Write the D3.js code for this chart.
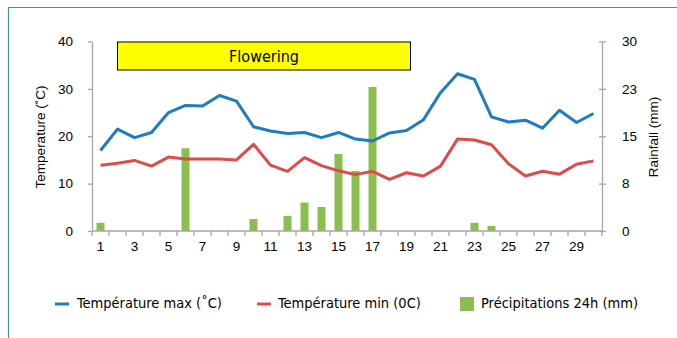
<!DOCTYPE html>
<html>
<head>
<meta charset="utf-8">
<script src="https://cdn.jsdelivr.net/npm/d3@7/dist/d3.min.js"></script>
<style>
  html, body { margin: 0; padding: 0; background: #fff; }
  svg { display: block; }
</style>
</head>
<body>
<svg id="chart" width="677" height="338"></svg>
<script>
// Daily weather for the month: max/min temperature and 24h rainfall
const days = d3.range(1, 31);
const tempMax = [17.0, 21.5, 19.7, 20.8, 25.0, 26.5, 26.4, 28.6, 27.4, 22.0,
                 21.1, 20.6, 20.8, 19.7, 20.8, 19.4, 19.0, 20.7, 21.2, 23.5,
                 29.2, 33.2, 32.0, 24.1, 23.0, 23.4, 21.7, 25.5, 22.9, 24.8];
const tempMin = [13.9, 14.3, 14.9, 13.7, 15.6, 15.2, 15.2, 15.2, 15.0, 18.3,
                 13.9, 12.6, 15.5, 13.8, 12.7, 11.9, 12.6, 10.9, 12.3, 11.6,
                 13.7, 19.4, 19.2, 18.2, 14.2, 11.6, 12.6, 12.0, 14.1, 14.8];
const rain =    [1.3, 0, 0, 0, 0, 13.1, 0, 0, 0, 1.9,
                 0, 2.4, 4.5, 3.8, 12.2, 9.5, 22.8, 0, 0, 0,
                 0, 0, 1.3, 0.8, 0, 0, 0, 0, 0, 0];
const tempTicks = [0, 10, 20, 30, 40];
const rainTicks = [0, 7.5, 15, 22.5, 30];
const rainTickLabels = ["0", "8", "15", "23", "30"];
const xTickLabels = days.map(d => (d % 2 === 1 ? String(d) : ""));
const flowering = { start: 2, end: 19, label: "Flowering" };
const seriesNames = ["Température max (˚C)", "Température min (0C)", "Précipitations 24h (mm)"];

const colors = { max: "#1f7bc2", min: "#df4a4a", rain: "#8cbd4f", axis: "#a6a6a6" };
const tickFont = "'Liberation Sans', Arial, sans-serif";
const labelFont = "'DejaVu Sans Condensed', 'DejaVu Sans', sans-serif";

const svg = d3.select("#chart");

// outer frame (top and left edges visible)
svg.append("path")
  .attr("d", "M8.5,338 V7.5 H677")
  .attr("fill", "none")
  .attr("stroke", "#3b8fcb")
  .attr("stroke-width", 1.2);

const plot = { left: 92, right: 602, top: 41.5, bottom: 231 };

const x = d3.scaleBand().domain(days).range([plot.left, plot.right]).padding(0);
const xc = d => x(d) + x.bandwidth() / 2;
const yT = d3.scaleLinear().domain([0, 40]).range([plot.bottom, plot.top]);
const yR = d3.scaleLinear().domain([0, 30]).range([plot.bottom, plot.top]);

// rainfall bars (right axis)
const barW = 8;
svg.append("g").selectAll("rect")
  .data(days.filter((d, i) => rain[i] > 0))
  .join("rect")
  .attr("x", d => xc(d) - barW / 2)
  .attr("width", barW)
  .attr("y", d => yR(rain[d - 1]))
  .attr("height", d => yR(0) - yR(rain[d - 1]))
  .attr("fill", colors.rain);

// axes
function styleAxis(g) {
  g.selectAll(".domain").attr("stroke", colors.axis).attr("stroke-width", 1.3);
  g.selectAll(".tick line").attr("stroke", colors.axis).attr("stroke-width", 1.3);
  g.selectAll("text").attr("fill", "#000").style("font-family", tickFont).style("font-size", "13.5px");
}

const leftAxis = svg.append("g")
  .attr("transform", `translate(${plot.left},0)`)
  .call(d3.axisLeft(yT).tickValues(tempTicks).tickSize(4).tickPadding(15).tickSizeOuter(0));
styleAxis(leftAxis);

const rightAxis = svg.append("g")
  .attr("transform", `translate(${plot.right},0)`)
  .call(d3.axisRight(yR).tickValues(rainTicks).tickSize(4).tickPadding(16).tickSizeOuter(0)
    .tickFormat((d, i) => rainTickLabels[i]));
styleAxis(rightAxis);
rightAxis.selectAll(".tick line").attr("x1", -3);

// category axis: ticks on the band boundaries, labels on every other day
const bottomAxis = svg.append("g")
  .attr("transform", `translate(0,${plot.bottom})`)
  .call(d3.axisBottom(x).tickSize(0).tickPadding(10).tickFormat((d, i) => xTickLabels[i]));
styleAxis(bottomAxis);
bottomAxis.select(".domain").attr("d", `M${plot.left},0H${plot.right}`);
bottomAxis.selectAll(".bound")
  .data(d3.range(0, days.length + 1))
  .join("line")
  .attr("class", "bound")
  .attr("x1", i => plot.left + i * x.bandwidth())
  .attr("x2", i => plot.left + i * x.bandwidth())
  .attr("y1", 0).attr("y2", 5)
  .attr("stroke", colors.axis).attr("stroke-width", 1.3);

// temperature lines
const line = vals => d3.line().x((d, i) => xc(days[i])).y(d => yT(d))(vals);
svg.append("path").attr("d", line(tempMin))
  .attr("fill", "none").attr("stroke", colors.min).attr("stroke-width", 3).attr("stroke-linejoin", "round");
svg.append("path").attr("d", line(tempMax))
  .attr("fill", "none").attr("stroke", colors.max).attr("stroke-width", 3).attr("stroke-linejoin", "round");

// flowering period annotation
const fx0 = xc(flowering.start), fx1 = xc(flowering.end) + 4;
svg.append("rect")
  .attr("x", fx0).attr("y", 42)
  .attr("width", fx1 - fx0).attr("height", 28)
  .attr("fill", "#ffff00").attr("stroke", "#000").attr("stroke-width", 1);
svg.append("text")
  .attr("x", (fx0 + fx1) / 2).attr("y", 57)
  .attr("text-anchor", "middle").attr("dominant-baseline", "middle")
  .style("font-family", labelFont).style("font-size", "16px")
  .text(flowering.label);

// axis titles
svg.append("text")
  .attr("transform", "translate(41,137) rotate(-90)")
  .attr("text-anchor", "middle").attr("dominant-baseline", "middle")
  .style("font-family", tickFont).style("font-size", "13.5px")
  .text("Temperature (˚C)");
svg.append("text")
  .attr("transform", "translate(654,137) rotate(-90)")
  .attr("text-anchor", "middle").attr("dominant-baseline", "middle")
  .style("font-family", tickFont).style("font-size", "13.5px")
  .text("Rainfall (mm)");

// legend
const legendY = 304;
const legend = svg.append("g").style("font-family", labelFont).style("font-size", "14.5px");
const legendItems = [
  { name: seriesNames[0], type: "line", color: colors.max, x: 55, tx: 77 },
  { name: seriesNames[1], type: "line", color: colors.min, x: 257, tx: 278 },
  { name: seriesNames[2], type: "rect", color: colors.rain, x: 460, tx: 481 }
];
legendItems.forEach(it => {
  if (it.type === "line") {
    legend.append("line").attr("x1", it.x).attr("x2", it.x + 14)
      .attr("y1", legendY).attr("y2", legendY)
      .attr("stroke", it.color).attr("stroke-width", 3);
  } else {
    legend.append("rect").attr("x", it.x).attr("y", legendY - 7)
      .attr("width", 14).attr("height", 14).attr("fill", it.color);
  }
  legend.append("text").attr("x", it.tx).attr("y", legendY)
    .attr("dominant-baseline", "middle").text(it.name);
});
</script>
</body>
</html>
